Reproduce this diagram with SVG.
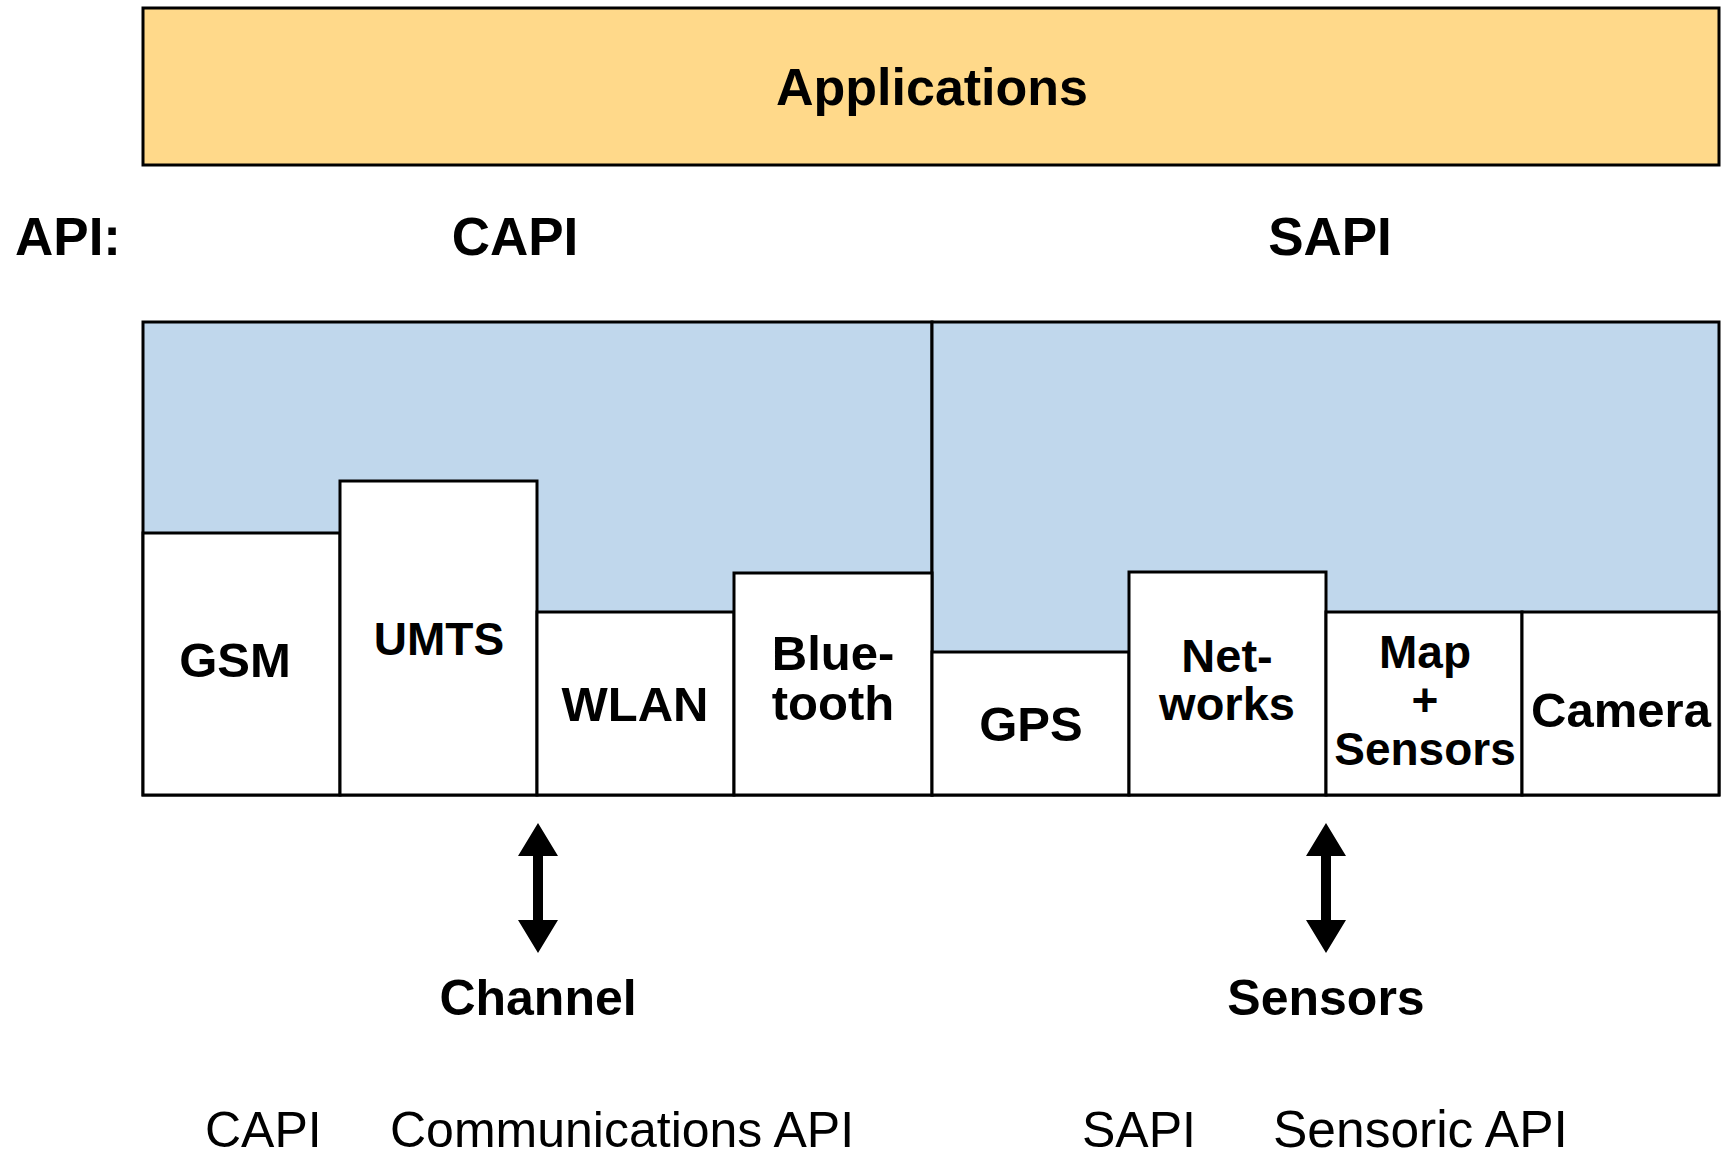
<svg xmlns="http://www.w3.org/2000/svg" width="1728" height="1158" viewBox="0 0 1728 1158">
<style>
.box{stroke:#000;stroke-width:3;}
.app{fill:#FFD98A;}
.blue{fill:#C0D7EC;}
.w{fill:#FFFFFF;}
.b{font-family:"Liberation Sans",Arial,sans-serif;font-weight:bold;fill:#000;text-anchor:middle;}
.r{font-family:"Liberation Sans",Arial,sans-serif;fill:#000;}
.arr{fill:#000;}
</style>
<rect width="1728" height="1158" fill="#FFFFFF"/>
<g id="applications">
<rect class="box app" x="143" y="8" width="1576" height="157"/>
<text class="b" x="932" y="105" font-size="52">Applications</text>
</g>
<g id="api-labels">
<text class="b" x="15" y="255" style="text-anchor:start" font-size="53">API:</text>
<text class="b" x="515" y="255" font-size="53">CAPI</text>
<text class="b" x="1330" y="255" font-size="53">SAPI</text>
</g>
<g id="capi-panel">
<rect class="box blue" x="143" y="322" width="789" height="473"/>
</g>
<g id="sapi-panel">
<rect class="box blue" x="932" y="322" width="787" height="473"/>
</g>
<g id="gsm">
<rect class="box w" x="143" y="533" width="197" height="262"/>
<text class="b" x="235" y="677" font-size="49">GSM</text>
</g>
<g id="umts">
<rect class="box w" x="340" y="481" width="197" height="314"/>
<text class="b" x="439" y="655" font-size="46">UMTS</text>
</g>
<g id="wlan">
<rect class="box w" x="537" y="612" width="197" height="183"/>
<text class="b" x="635" y="721" font-size="49">WLAN</text>
</g>
<g id="bluetooth">
<rect class="box w" x="734" y="573" width="198" height="222"/>
<text class="b" x="833" y="670" font-size="49">Blue-<tspan x="833" dy="50">tooth</tspan></text>
</g>
<g id="gps">
<rect class="box w" x="932" y="652" width="197" height="143"/>
<text class="b" x="1031" y="741" font-size="49">GPS</text>
</g>
<g id="networks">
<rect class="box w" x="1129" y="572" width="197" height="223"/>
<text class="b" x="1227" y="672" font-size="47">Net-<tspan x="1227" dy="48">works</tspan></text>
</g>
<g id="map-sensors">
<rect class="box w" x="1326" y="612" width="196" height="183"/>
<text class="b" x="1425" y="668" font-size="46">Map<tspan x="1425" dy="48">+</tspan><tspan x="1425" dy="49">Sensors</tspan></text>
</g>
<g id="camera">
<rect class="box w" x="1522" y="612" width="197" height="183"/>
<text class="b" x="1621" y="727" font-size="49">Camera</text>
</g>
<g id="connectors">
<polygon class="arr" points="538,823 558,856 543,856 543,920 558,920 538,953 518,920 533,920 533,856 518,856"/>
<polygon class="arr" points="1326,823 1346,856 1331,856 1331,920 1346,920 1326,953 1306,920 1321,920 1321,856 1306,856"/>
</g>
<g id="channel">
<text class="b" x="538" y="1015" font-size="50">Channel</text>
</g>
<g id="sensors">
<text class="b" x="1326" y="1015" font-size="50">Sensors</text>
</g>
<g id="legend">
<text class="r" x="205" y="1147" font-size="50">CAPI</text>
<text class="r" x="390" y="1147" font-size="50">Communications API</text>
<text class="r" x="1082" y="1147" font-size="50">SAPI</text>
<text class="r" x="1273" y="1147" font-size="51.5">Sensoric API</text>
</g>
</svg>
